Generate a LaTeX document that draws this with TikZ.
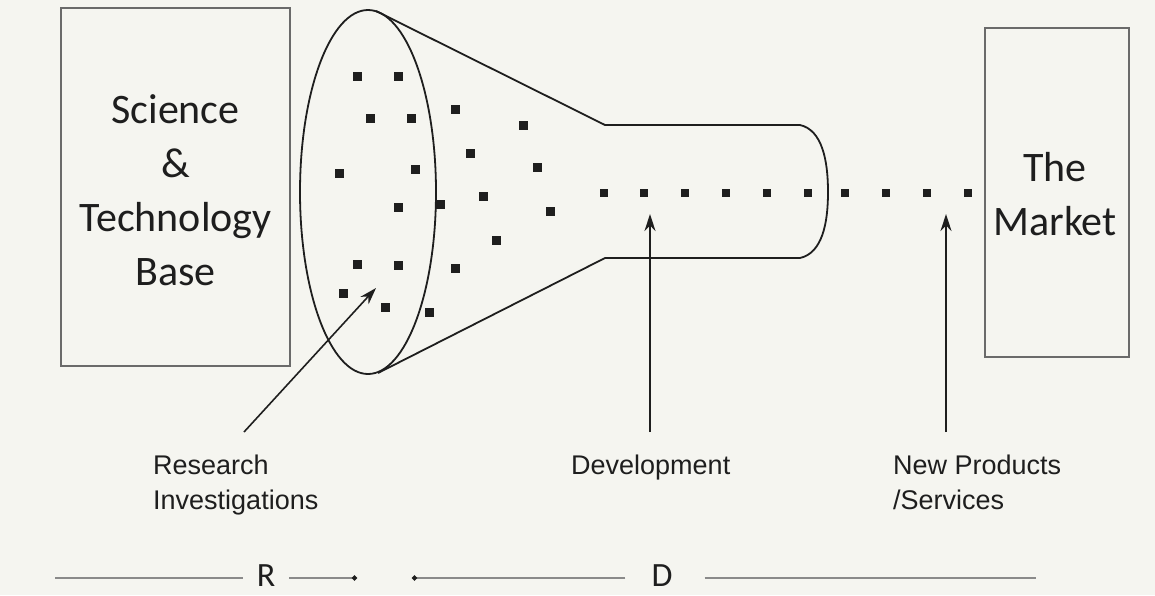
\documentclass[tikz,border=0pt]{standalone}
\usepackage{fontspec}
\setmainfont{Carlito}
\newfontfamily\labfont{Liberation Sans}
\usetikzlibrary{arrows.meta,shapes.geometric}
\definecolor{bg}{HTML}{F5F5F0}
\definecolor{ink}{HTML}{1E1E1E}
\definecolor{boxgray}{HTML}{6A6A6A}
\definecolor{rulegray}{HTML}{8A8A8A}
\tikzset{
  sq/.style={fill=ink,minimum size=9pt,inner sep=0pt,outer sep=0pt},
  bigbox/.style={draw=boxgray,line width=1.8pt},
  outline/.style={draw=ink,line width=1.8pt},
  bigtext/.style={text=ink,align=center,font=\fontsize{42}{54}\selectfont},
  labtext/.style={text=ink,align=left,anchor=north west,inner sep=0pt,font=\labfont\fontsize{27}{35}\selectfont},
  ptr/.style={draw=ink,line width=1.6pt,-{Stealth[length=17pt,width=11pt]}},
  rule/.style={draw=rulegray,line width=2pt},
  ruletip/.style={rule,-{Circle[length=5pt,width=5pt,color=ink]}},
  rdtext/.style={text=ink,font=\fontsize{34}{38}\selectfont,inner sep=0pt}
}
\begin{document}
\begin{tikzpicture}[x=1pt,y=-1pt]
\useasboundingbox (0,0) rectangle (1155,595);
\fill[bg] (0,0) rectangle (1155,595);
% left box
\node[bigbox,minimum width=229pt,minimum height=358pt,inner sep=0pt] (stbox) at (175.5,187) {};
\node[bigtext] (sttext) at (175.5,190) {Science\\\&\\Technology\\Base};
% right box
\node[bigbox,minimum width=144pt,minimum height=329pt,inner sep=0pt] (mbox) at (1057,192.5) {};
\node[bigtext] (mtext) at (1055,194) {The\\Market};
% funnel
\node[outline,ellipse,minimum width=136pt,minimum height=364pt,inner sep=0pt] (ell) at (368,192) {};
\coordinate (ct) at (376,11);
\coordinate (cb) at (378,373);
\coordinate (t1) at (605,125);
\coordinate (b1) at (605,258);
\coordinate (t2) at (800,125);
\coordinate (b2) at (800,258);
\coordinate (tip) at (828,192);
\draw[outline,line join=round] (ct) -- (t1) -- (t2) .. controls (822,130) and (828,160) .. (tip) .. controls (828,224) and (822,253) .. (b2) -- (b1) -- (cb);
% scattered dots
\foreach \x/\y [count=\i] in {357/76,398/76,455/109,370/118,411/118,523/125,470/153,339/173,415/169,537/167,483/196,440/204,398/207,550/211,496/240,357/264,398/265,455/268,343/293,385/307,429/312}
  \node[sq] (d\i) at (\x,\y) {};
% dotted line of dots
\foreach \x [count=\i] in {604,644,685,726,767,808,845,886,927,968}
  \node[sq,minimum size=8pt] (l\i) at (\x,193) {};
% labels
\node[labtext] (rlab) at (153,455) {Research\\Investigations};
\node[labtext] (dlab) at (571,455) {Development};
\node[labtext] (nlab) at (893,455) {New Products\\/Services};
\coordinate (ra) at (244,432);
\coordinate (rt) at (376,288);
\coordinate (da) at (650,432);
\coordinate (dt) at (650,214);
\coordinate (na) at (946,432);
\coordinate (nt) at (946,214);
\draw[ptr] (ra) -- (rt);
\draw[ptr] (da) -- (dt);
\draw[ptr] (na) -- (nt);
% bottom R / D scale
\node[rdtext] (R) at (266,576) {R};
\node[rdtext] (D) at (662,576) {D};
\coordinate (r0) at (55,578);
\coordinate (r1) at (357,578);
\coordinate (d0) at (412,578);
\coordinate (d1e) at (1036,578);
\path (R.west) ++(-14,2) coordinate (rw);
\path (R.east) ++(14,2) coordinate (re);
\path (D.west) ++(-26,2) coordinate (dw);
\path (D.east) ++(32,2) coordinate (de);
\draw[rule] (r0) -- (rw);
\draw[ruletip] (re) -- (r1);
\draw[ruletip] (dw) -- (d0);
\draw[rule] (de) -- (d1e);
\end{tikzpicture}
\end{document}
